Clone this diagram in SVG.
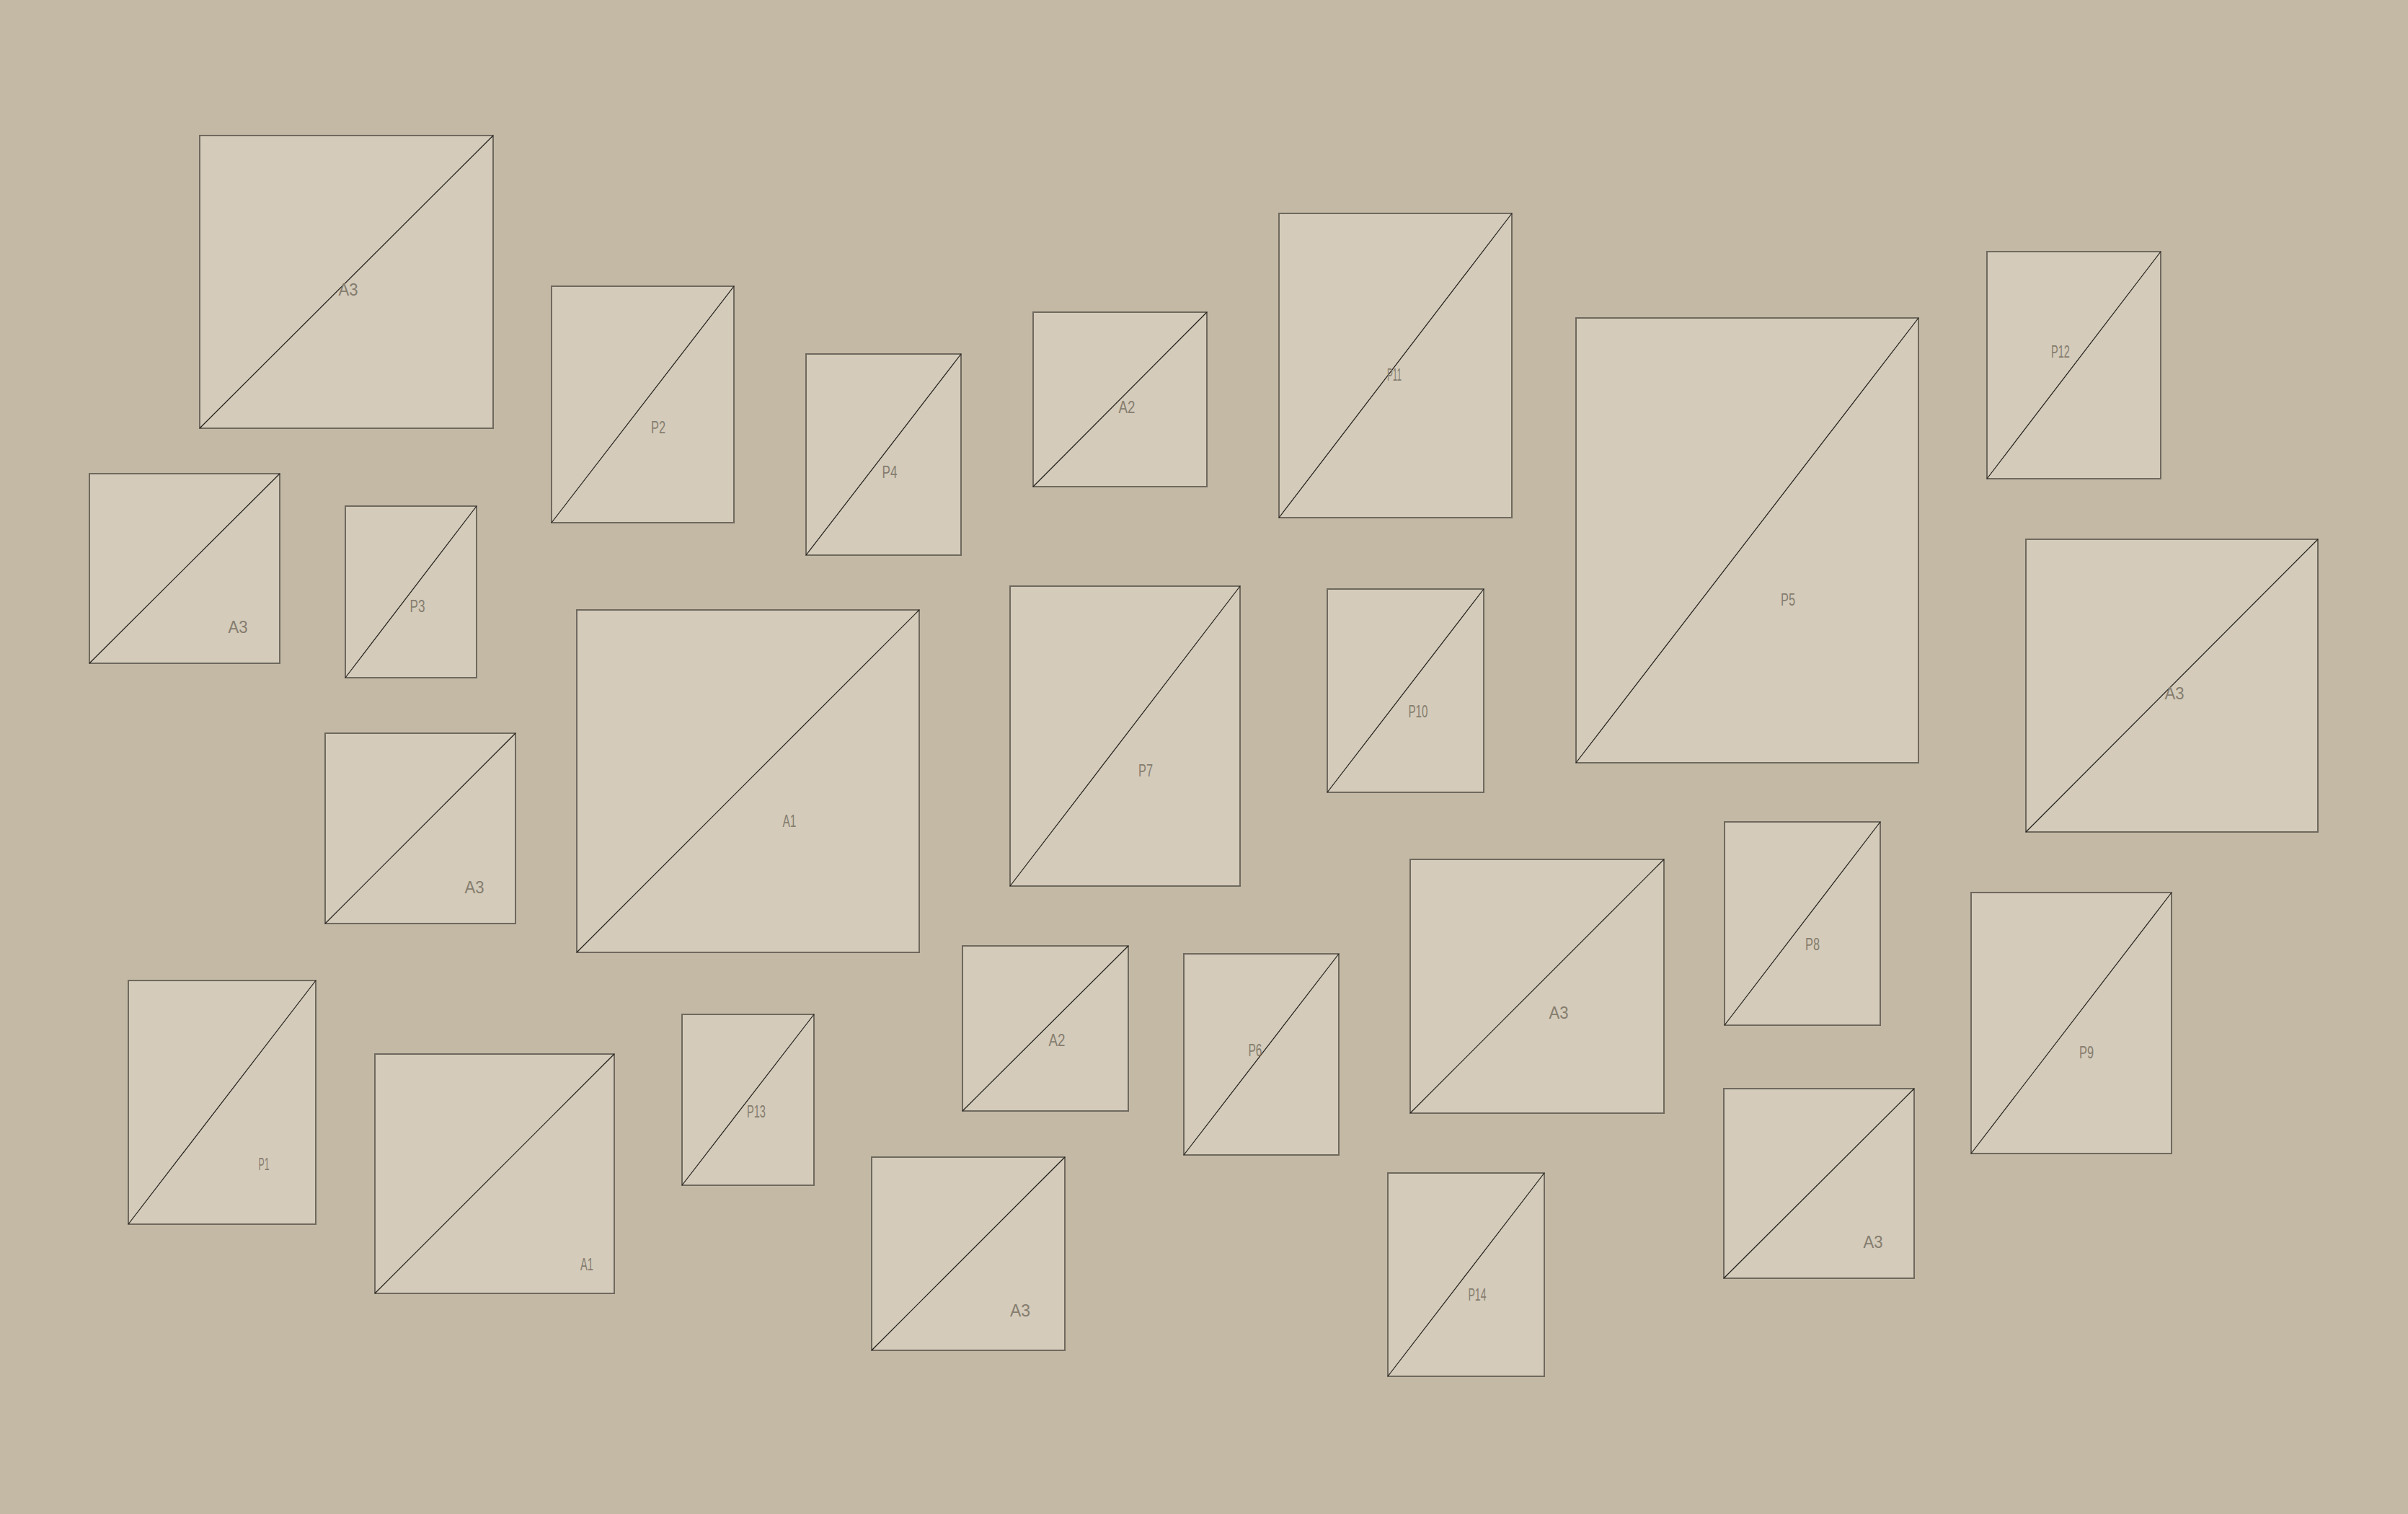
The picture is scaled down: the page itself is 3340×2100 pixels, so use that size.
<svg xmlns="http://www.w3.org/2000/svg" width="3340" height="2100" viewBox="0 0 3340 2100">
<style>
.bg{fill:#c4b9a5}
.f{fill:#d4cbba;stroke:#6f695e;stroke-width:2}
.d{stroke:#1e1c18;stroke-width:1.2;fill:none}
.t{font-family:"Liberation Sans",Arial,sans-serif;font-size:24px;fill:#857d6f;text-anchor:middle}
</style>
<rect class="bg" x="0" y="0" width="3340" height="2100"/>
<g id="frame-a3-1"><rect class="f" x="277" y="188" width="407" height="406"/><line class="d" x1="277" y1="594" x2="684" y2="188"/><text class="t" x="483" y="410" textLength="27" lengthAdjust="spacingAndGlyphs">A3</text></g>
<g id="frame-p2"><rect class="f" x="765" y="397" width="253" height="328"/><line class="d" x1="765" y1="725" x2="1018" y2="397"/><text class="t" x="913" y="601" textLength="20" lengthAdjust="spacingAndGlyphs">P2</text></g>
<g id="frame-p4"><rect class="f" x="1118" y="491" width="215" height="279"/><line class="d" x1="1118" y1="770" x2="1333" y2="491"/><text class="t" x="1234" y="663" textLength="21" lengthAdjust="spacingAndGlyphs">P4</text></g>
<g id="frame-a2-1"><rect class="f" x="1433" y="433" width="241" height="242"/><line class="d" x1="1433" y1="675" x2="1674" y2="433"/><text class="t" x="1563" y="573" textLength="23" lengthAdjust="spacingAndGlyphs">A2</text></g>
<g id="frame-p11"><rect class="f" x="1774" y="296" width="323" height="422"/><line class="d" x1="1774" y1="718" x2="2097" y2="296"/><text class="t" x="1934" y="528" textLength="20" lengthAdjust="spacingAndGlyphs">P11</text></g>
<g id="frame-p5"><rect class="f" x="2186" y="441" width="475" height="617"/><line class="d" x1="2186" y1="1058" x2="2661" y2="441"/><text class="t" x="2480" y="840" textLength="20" lengthAdjust="spacingAndGlyphs">P5</text></g>
<g id="frame-p12"><rect class="f" x="2756" y="349" width="241" height="315"/><line class="d" x1="2756" y1="664" x2="2997" y2="349"/><text class="t" x="2858" y="496" textLength="26" lengthAdjust="spacingAndGlyphs">P12</text></g>
<g id="frame-a3-2"><rect class="f" x="124" y="657" width="264" height="263"/><line class="d" x1="124" y1="920" x2="388" y2="657"/><text class="t" x="330" y="878" textLength="27" lengthAdjust="spacingAndGlyphs">A3</text></g>
<g id="frame-p3"><rect class="f" x="479" y="702" width="182" height="238"/><line class="d" x1="479" y1="940" x2="661" y2="702"/><text class="t" x="579" y="849" textLength="21" lengthAdjust="spacingAndGlyphs">P3</text></g>
<g id="frame-a1-1"><rect class="f" x="800" y="846" width="475" height="475"/><line class="d" x1="800" y1="1321" x2="1275" y2="846"/><text class="t" x="1095" y="1147" textLength="19" lengthAdjust="spacingAndGlyphs">A1</text></g>
<g id="frame-p7"><rect class="f" x="1401" y="813" width="319" height="416"/><line class="d" x1="1401" y1="1229" x2="1720" y2="813"/><text class="t" x="1589" y="1077" textLength="20" lengthAdjust="spacingAndGlyphs">P7</text></g>
<g id="frame-p10"><rect class="f" x="1841" y="817" width="217" height="282"/><line class="d" x1="1841" y1="1099" x2="2058" y2="817"/><text class="t" x="1967" y="995" textLength="27" lengthAdjust="spacingAndGlyphs">P10</text></g>
<g id="frame-a3-3"><rect class="f" x="2810" y="748" width="405" height="406"/><line class="d" x1="2810" y1="1154" x2="3215" y2="748"/><text class="t" x="3016" y="970" textLength="27" lengthAdjust="spacingAndGlyphs">A3</text></g>
<g id="frame-a3-4"><rect class="f" x="451" y="1017" width="264" height="264"/><line class="d" x1="451" y1="1281" x2="715" y2="1017"/><text class="t" x="658" y="1239" textLength="27" lengthAdjust="spacingAndGlyphs">A3</text></g>
<g id="frame-a2-2"><rect class="f" x="1335" y="1312" width="230" height="229"/><line class="d" x1="1335" y1="1541" x2="1565" y2="1312"/><text class="t" x="1466" y="1451" textLength="23" lengthAdjust="spacingAndGlyphs">A2</text></g>
<g id="frame-p6"><rect class="f" x="1642" y="1323" width="215" height="279"/><line class="d" x1="1642" y1="1602" x2="1857" y2="1323"/><text class="t" x="1741" y="1465" textLength="19" lengthAdjust="spacingAndGlyphs">P6</text></g>
<g id="frame-a3-5"><rect class="f" x="1956" y="1192" width="352" height="352"/><line class="d" x1="1956" y1="1544" x2="2308" y2="1192"/><text class="t" x="2162" y="1413" textLength="27" lengthAdjust="spacingAndGlyphs">A3</text></g>
<g id="frame-p8"><rect class="f" x="2392" y="1140" width="216" height="282"/><line class="d" x1="2392" y1="1422" x2="2608" y2="1140"/><text class="t" x="2514" y="1318" textLength="20" lengthAdjust="spacingAndGlyphs">P8</text></g>
<g id="frame-p9"><rect class="f" x="2734" y="1238" width="278" height="362"/><line class="d" x1="2734" y1="1600" x2="3012" y2="1238"/><text class="t" x="2894" y="1468" textLength="20" lengthAdjust="spacingAndGlyphs">P9</text></g>
<g id="frame-p1"><rect class="f" x="178" y="1360" width="260" height="338"/><line class="d" x1="178" y1="1698" x2="438" y2="1360"/><text class="t" x="366" y="1623" textLength="15" lengthAdjust="spacingAndGlyphs">P1</text></g>
<g id="frame-a1-2"><rect class="f" x="520" y="1462" width="332" height="332"/><line class="d" x1="520" y1="1794" x2="852" y2="1462"/><text class="t" x="814" y="1762" textLength="18" lengthAdjust="spacingAndGlyphs">A1</text></g>
<g id="frame-p13"><rect class="f" x="946" y="1407" width="183" height="237"/><line class="d" x1="946" y1="1644" x2="1129" y2="1407"/><text class="t" x="1049" y="1550" textLength="26" lengthAdjust="spacingAndGlyphs">P13</text></g>
<g id="frame-a3-6"><rect class="f" x="1209" y="1605" width="268" height="268"/><line class="d" x1="1209" y1="1873" x2="1477" y2="1605"/><text class="t" x="1415" y="1826" textLength="28" lengthAdjust="spacingAndGlyphs">A3</text></g>
<g id="frame-p14"><rect class="f" x="1925" y="1627" width="217" height="282"/><line class="d" x1="1925" y1="1909" x2="2142" y2="1627"/><text class="t" x="2049" y="1804" textLength="25" lengthAdjust="spacingAndGlyphs">P14</text></g>
<g id="frame-a3-7"><rect class="f" x="2391" y="1510" width="264" height="263"/><line class="d" x1="2391" y1="1773" x2="2655" y2="1510"/><text class="t" x="2598" y="1731" textLength="27" lengthAdjust="spacingAndGlyphs">A3</text></g>
</svg>
